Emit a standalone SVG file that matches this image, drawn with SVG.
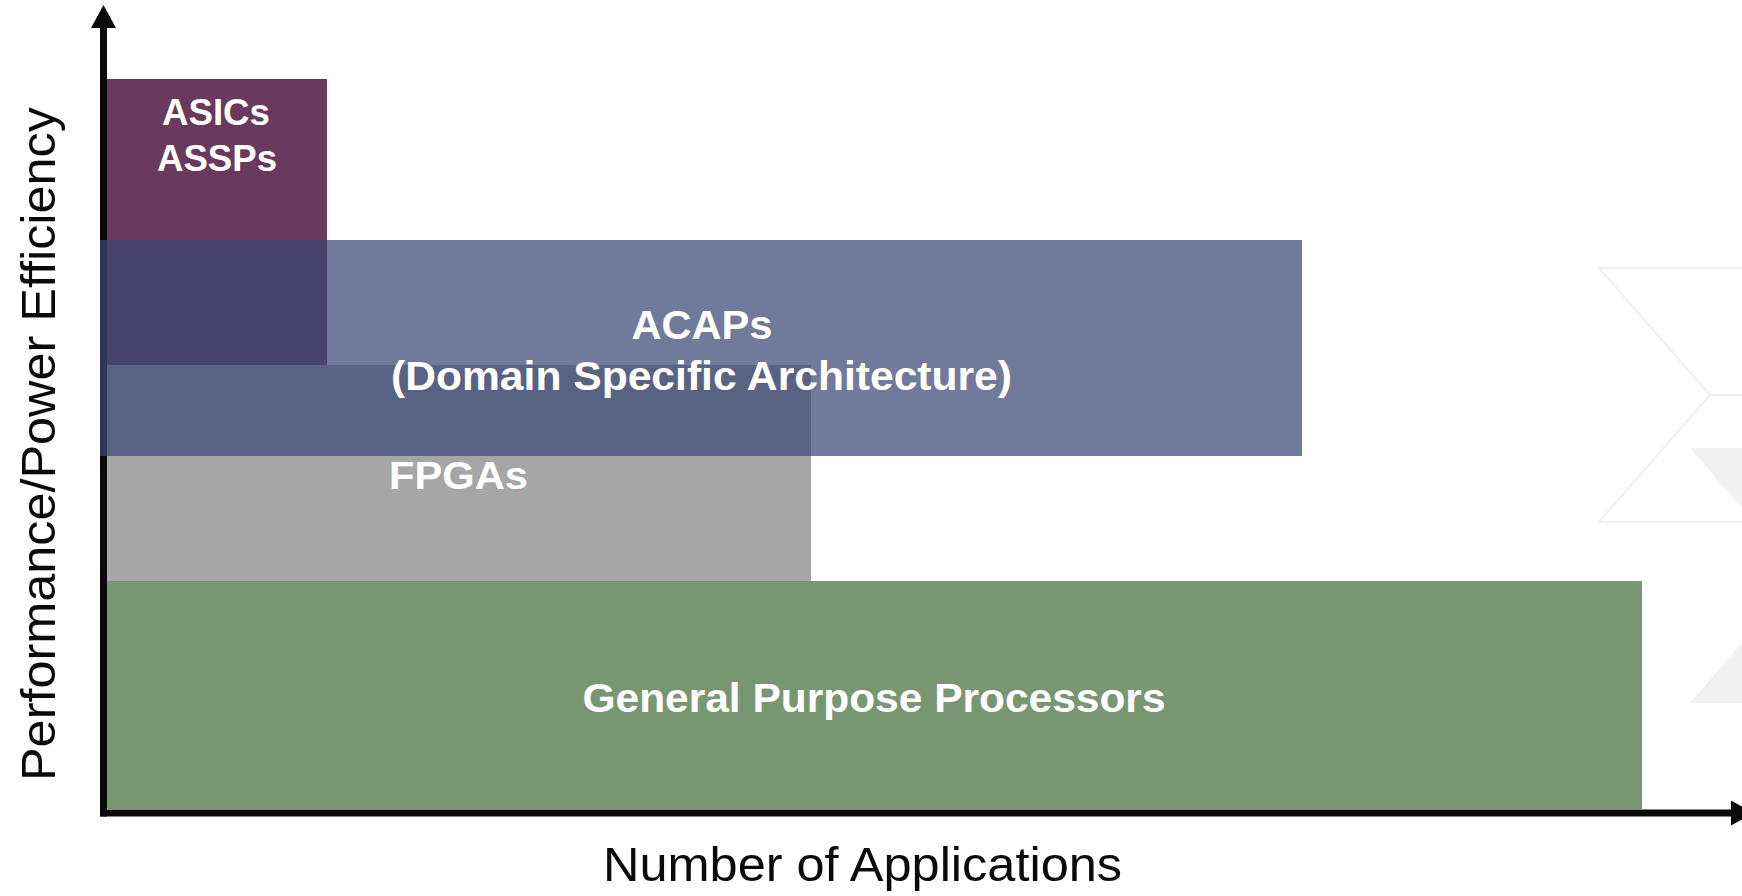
<svg xmlns="http://www.w3.org/2000/svg" width="1742" height="896" viewBox="0 0 1742 896">
  <style>
    .lbl { font-family: "Liberation Sans", Arial, sans-serif; font-weight: bold; fill: #ffffff; text-anchor: middle; }
    .axis-title { font-family: "Liberation Sans", Arial, sans-serif; fill: #0a0a0a; text-anchor: middle; }
    .axis-line { stroke: #0a0a0a; stroke-width: 7; fill: none; }
    .deco-line { stroke: #ececec; stroke-width: 1.6; fill: none; }
    .deco-fill { fill: #f1f1f1; }
  </style>
  <defs>
    <marker id="arrowHead" markerUnits="userSpaceOnUse" markerWidth="24" markerHeight="25" refX="0" refY="12.5" orient="auto">
      <path d="M0,0 L23,12.5 L0,25 Z" fill="#0a0a0a"/>
    </marker>
  </defs>

  <rect x="0" y="0" width="1742" height="896" fill="#ffffff"/>

  <!-- faint logo outline in the right margin -->
  <g id="backdrop">
    <path class="deco-line" d="M1742,268 H1599 L1710,395 H1742 M1710,395 L1599,522 H1742"/>
    <polygon class="deco-fill" points="1690,448 1742,448 1742,508"/>
    <polygon class="deco-fill" points="1690,703 1742,703 1742,643"/>
  </g>

  <!-- solid category bands -->
  <g id="asics">
    <rect x="106" y="79" width="221" height="286" fill="#6a3a5e"/>
  </g>
  <g id="fpgas">
    <rect x="106" y="365" width="705" height="216" fill="#a6a6a6"/>
  </g>
  <g id="gpp">
    <rect x="106" y="581" width="1536" height="228" fill="#799673"/>
  </g>

  <!-- axes -->
  <g id="axes">
    <line class="axis-line" x1="103.5" y1="816.5" x2="103.5" y2="28" marker-end="url(#arrowHead)"/>
    <line class="axis-line" x1="100" y1="813" x2="1731" y2="813" marker-end="url(#arrowHead)"/>
  </g>

  <!-- translucent band laid over the others -->
  <g id="acaps">
    <rect x="100" y="240" width="1202" height="216" fill="#3b4976" fill-opacity="0.73"/>
  </g>

  <!-- labels -->
  <g id="labels">
    <text class="lbl" x="216" y="125" font-size="37" textLength="108" lengthAdjust="spacingAndGlyphs">ASICs</text>
    <text class="lbl" x="217" y="171" font-size="37" textLength="120" lengthAdjust="spacingAndGlyphs">ASSPs</text>
    <text class="lbl" x="702" y="338.5" font-size="40" textLength="141" lengthAdjust="spacingAndGlyphs">ACAPs</text>
    <text class="lbl" x="701.5" y="390" font-size="40" textLength="621" lengthAdjust="spacingAndGlyphs">(Domain Specific Architecture)</text>
    <text class="lbl" x="458.5" y="489" font-size="39" textLength="139" lengthAdjust="spacingAndGlyphs">FPGAs</text>
    <text class="lbl" x="874" y="712" font-size="41" textLength="583" lengthAdjust="spacingAndGlyphs">General Purpose Processors</text>
  </g>

  <g id="axis-titles">
    <text class="axis-title" x="862.5" y="881" font-size="48" textLength="519" lengthAdjust="spacingAndGlyphs">Number of Applications</text>
    <text class="axis-title" transform="translate(55,444) rotate(-90)" x="0" y="0" font-size="48" textLength="674" lengthAdjust="spacingAndGlyphs">Performance/Power Efficiency</text>
  </g>
</svg>
